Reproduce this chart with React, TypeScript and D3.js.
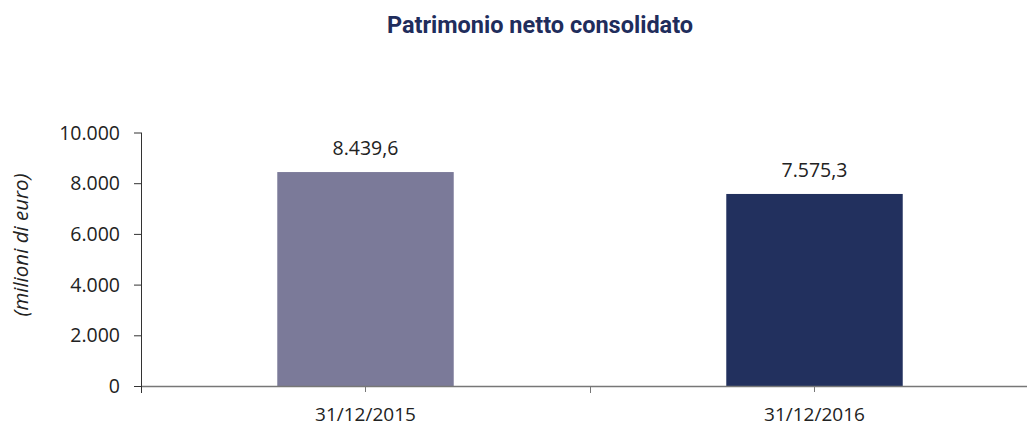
import React from "react";
import * as d3 from "d3";

const categories = ["31/12/2015", "31/12/2016"];
const values = [8439.6, 7575.3];
const valueLabels = ["8.439,6", "7.575,3"];
const barColors = ["#7b7a99", "#22305e"];
const yTicks = [0, 2000, 4000, 6000, 8000, 10000];
const yTickLabels = ["0", "2.000", "4.000", "6.000", "8.000", "10.000"];
const title = "Patrimonio netto consolidato";
const yTitle = "(milioni di euro)";

export default function App() {
  const W = 1027, H = 427;
  const x0 = 141, x1 = 1039;
  const yBase = 386, yTop = 132.5;
  const x = d3.scaleBand<string>().domain(categories).range([x0, x1]).paddingInner(0).paddingOuter(0);
  const y = d3.scaleLinear().domain([0, 10000]).range([yBase, yTop]);
  const bw = x.bandwidth() * 0.393;
  const font = "'Open Sans', 'Noto Sans', sans-serif";
  const titleFont = "Roboto, 'Open Sans', sans-serif";
  const textColor = "#222";
  const axisColor = "#777";
  const fs = 19.5;
  return (
    <div style={{ position: "absolute", left: 0, top: 0 }}>
      <svg width={W} height={H} style={{ display: "block" }}>
        <rect width={W} height={H} fill="#fff" />
        <text x={540} y={33} textAnchor="middle" fontFamily={titleFont} fontWeight={700} fontSize={23.5} fill="#1f2d5c">
          {title}
        </text>
        <text transform={`translate(28,245) rotate(-90)`} textAnchor="middle" fontFamily={font} fontStyle="italic" fontSize={20.5} fill={textColor}>
          {yTitle}
        </text>
        {categories.map((c, i) => {
          const cx = (x(c) as number) + x.bandwidth() / 2;
          return (
            <g key={c}>
              <rect x={cx - bw / 2} y={y(values[i])} width={bw} height={yBase - y(values[i])} fill={barColors[i]} />
              <text x={cx} y={y(values[i]) - 17} textAnchor="middle" fontFamily={font} fontSize={fs} fill={textColor}>
                {valueLabels[i]}
              </text>
              <text x={cx} y={421} textAnchor="middle" fontFamily={font} fontSize={19} fill={textColor}>
                {c}
              </text>
              <line x1={cx} x2={cx} y1={yBase} y2={yBase + 6} stroke={axisColor} />
            </g>
          );
        })}
        {/* x axis */}
        <line x1={x0} x2={x1} y1={yBase + 0.5} y2={yBase + 0.5} stroke={axisColor} strokeWidth={1.5} />
        {categories.map((c) => (
          <line key={"b" + c} x1={(x(c) as number) + 0.5} x2={(x(c) as number) + 0.5} y1={yBase} y2={yBase + 7} stroke={axisColor} strokeWidth={1} />
        ))}
        {/* y axis */}
        <line x1={x0 + 0.5} x2={x0 + 0.5} y1={yTop} y2={yBase + 7} stroke="#333" strokeWidth={1} />
        {yTicks.map((t, i) => (
          <g key={t}>
            <line x1={x0 - 7} x2={x0} y1={y(t) + 0.5} y2={y(t) + 0.5} stroke="#333" />
            <text x={x0 - 21} y={y(t) + 7} textAnchor="end" fontFamily={font} fontSize={fs} fill={textColor}>
              {yTickLabels[i]}
            </text>
          </g>
        ))}
      </svg>
    </div>
  );
}
